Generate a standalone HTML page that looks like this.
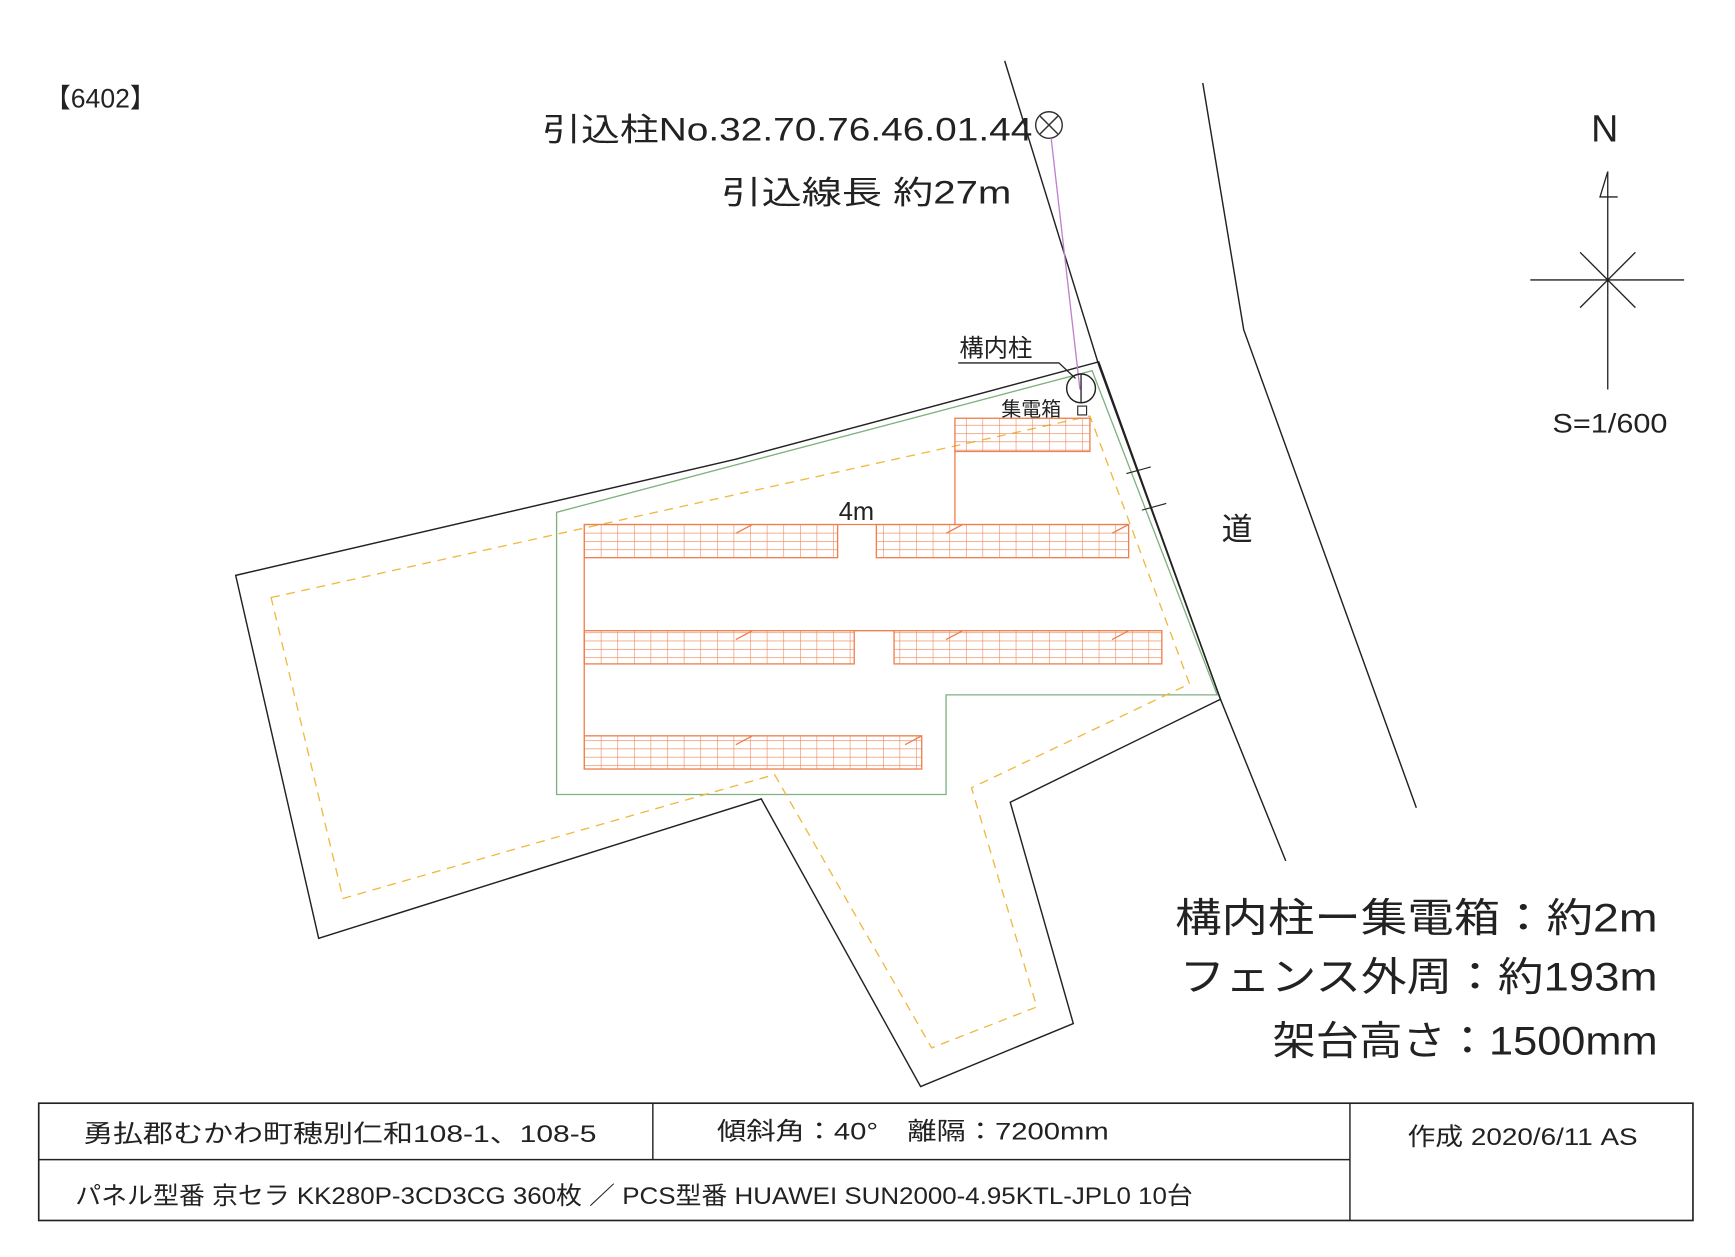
<!DOCTYPE html>
<html><head><meta charset="utf-8"><style>
html,body{margin:0;padding:0;background:#fff;}
svg{display:block;}
text{font-family:"Liberation Sans","Noto Sans CJK JP",sans-serif;fill:#222;}
</style></head><body>
<svg width="1735" height="1257" viewBox="0 0 1568 1136" preserveAspectRatio="none" xmlns="http://www.w3.org/2000/svg">
<defs>
<pattern id="pg" x="528" y="474" width="15" height="7.5" patternUnits="userSpaceOnUse">
<path d="M0 0H15M0 0V7.5" stroke="#ee7f4f" stroke-width="1" fill="none"/>
</pattern>
</defs>
<rect width="1568" height="1136" fill="#fff"/>
<text x="40" y="97" font-size="24" font-family="Liberation Mono, monospace">【6402】</text>
<text x="490" y="127" font-size="29" textLength="443" lengthAdjust="spacingAndGlyphs">引込柱No.32.70.76.46.01.44</text>
<text x="652" y="184" font-size="29" textLength="262" lengthAdjust="spacingAndGlyphs">引込線長 約27m</text>
<circle cx="948" cy="113" r="12" fill="none" stroke="#333" stroke-width="1.3"/>
<path d="M940 105L956 121M956 105L940 121" stroke="#333" stroke-width="1.3"/>
<polyline points="908,55 993,330 1103,632 1162,778" fill="none" stroke="#222" stroke-width="1.3"/>
<polyline points="1087,75 1124,298 1280,730" fill="none" stroke="#222" stroke-width="1.3"/>
<polygon points="213,520 665,415 993,327 1103,632 913,725 970,925 832,982 688,722 288,848" fill="none" stroke="#222" stroke-width="1.3"/>
<polygon points="503,463 987,335 1100,628 855,628 855,718 503,718" fill="none" stroke="#7fb07f" stroke-width="1.2"/>
<polygon points="245,540 985,376 1075,618 878,712 937,910 842,947 700,700 310,812" fill="none" stroke="#f0b840" stroke-width="1.2" stroke-dasharray="8,6"/>
<line x1="950" y1="125" x2="976" y2="352" stroke="#c080d0" stroke-width="1.2"/>
<circle cx="977" cy="351" r="13" fill="none" stroke="#222" stroke-width="1.3"/>
<line x1="977" y1="338" x2="977" y2="364" stroke="#222" stroke-width="1.2"/>
<text x="867" y="322" font-size="22">構内柱</text>
<polyline points="866,328 957,328 972,342" fill="none" stroke="#222" stroke-width="1.2"/>
<text x="905" y="376" font-size="18">集電箱</text>
<rect x="974" y="367" width="8" height="8" fill="none" stroke="#222" stroke-width="1"/>
<line x1="1018" y1="428" x2="1040" y2="422" stroke="#222"/>
<line x1="1032" y1="461" x2="1054" y2="455" stroke="#222"/>
<g stroke="#ee7f4f" stroke-width="1.2">
<rect x="863" y="378" width="122" height="30" fill="url(#pg)"/>
<rect x="528" y="474" width="229" height="30" fill="url(#pg)"/>
<rect x="792" y="474" width="228" height="30" fill="url(#pg)"/>
<rect x="528" y="570" width="244" height="30" fill="url(#pg)"/>
<rect x="808" y="570" width="242" height="30" fill="url(#pg)"/>
<rect x="528" y="665" width="305" height="30" fill="url(#pg)"/>
<line x1="528" y1="504" x2="528" y2="665"/>
<line x1="863" y1="408" x2="863" y2="474"/>
<line x1="757" y1="474" x2="792" y2="474"/>
<line x1="772" y1="570" x2="808" y2="570"/>
<line x1="665" y1="482" x2="680" y2="474"/>
<line x1="855" y1="482" x2="870" y2="474"/>
<line x1="1005" y1="482" x2="1020" y2="474"/>
<line x1="665" y1="578" x2="680" y2="570"/>
<line x1="855" y1="578" x2="870" y2="570"/>
<line x1="1005" y1="578" x2="1020" y2="570"/>
<line x1="665" y1="673" x2="680" y2="665"/>
<line x1="818" y1="673" x2="833" y2="665"/>
</g>
<text x="758" y="470" font-size="23">4m</text>
<text x="1104" y="488" font-size="28">道</text>
<text x="1438" y="128" font-size="34">N</text>
<line x1="1453" y1="155" x2="1453" y2="352" stroke="#222" stroke-width="1.2"/>
<polyline points="1453,155 1446,178 1462,178" fill="none" stroke="#222" stroke-width="1.2"/>
<line x1="1383" y1="253" x2="1522" y2="253" stroke="#222" stroke-width="1.2"/>
<line x1="1428" y1="228" x2="1478" y2="278" stroke="#222" stroke-width="1.2"/>
<line x1="1478" y1="228" x2="1428" y2="278" stroke="#222" stroke-width="1.2"/>
<text x="1403" y="391" font-size="24" textLength="104" lengthAdjust="spacingAndGlyphs">S=1/600</text>
<text x="1498" y="842" font-size="36" text-anchor="end" textLength="436" lengthAdjust="spacingAndGlyphs">構内柱ー集電箱：約2m</text>
<text x="1498" y="895" font-size="36" text-anchor="end" textLength="432" lengthAdjust="spacingAndGlyphs">フェンス外周：約193m</text>
<text x="1498" y="953" font-size="36" text-anchor="end" textLength="348" lengthAdjust="spacingAndGlyphs">架台高さ：1500mm</text>
<rect x="35" y="997" width="1495" height="106" fill="none" stroke="#222" stroke-width="1.5"/>
<line x1="590" y1="997" x2="590" y2="1048" stroke="#222" stroke-width="1.3"/>
<line x1="35" y1="1048" x2="1220" y2="1048" stroke="#222" stroke-width="1.3"/>
<line x1="1220" y1="997" x2="1220" y2="1103" stroke="#222" stroke-width="1.3"/>
<text x="75" y="1032" font-size="22" textLength="464" lengthAdjust="spacingAndGlyphs">勇払郡むかわ町穂別仁和108-1、108-5</text>
<text x="648" y="1030" font-size="22" textLength="354" lengthAdjust="spacingAndGlyphs">傾斜角：40°　離隔：7200mm</text>
<text x="1272" y="1035" font-size="22" textLength="208" lengthAdjust="spacingAndGlyphs">作成 2020/6/11 AS</text>
<text x="68" y="1088" font-size="22" textLength="1010" lengthAdjust="spacingAndGlyphs">パネル型番 京セラ KK280P-3CD3CG  360枚 ／ PCS型番 HUAWEI SUN2000-4.95KTL-JPL0 10台</text>
</svg>
</body></html>
